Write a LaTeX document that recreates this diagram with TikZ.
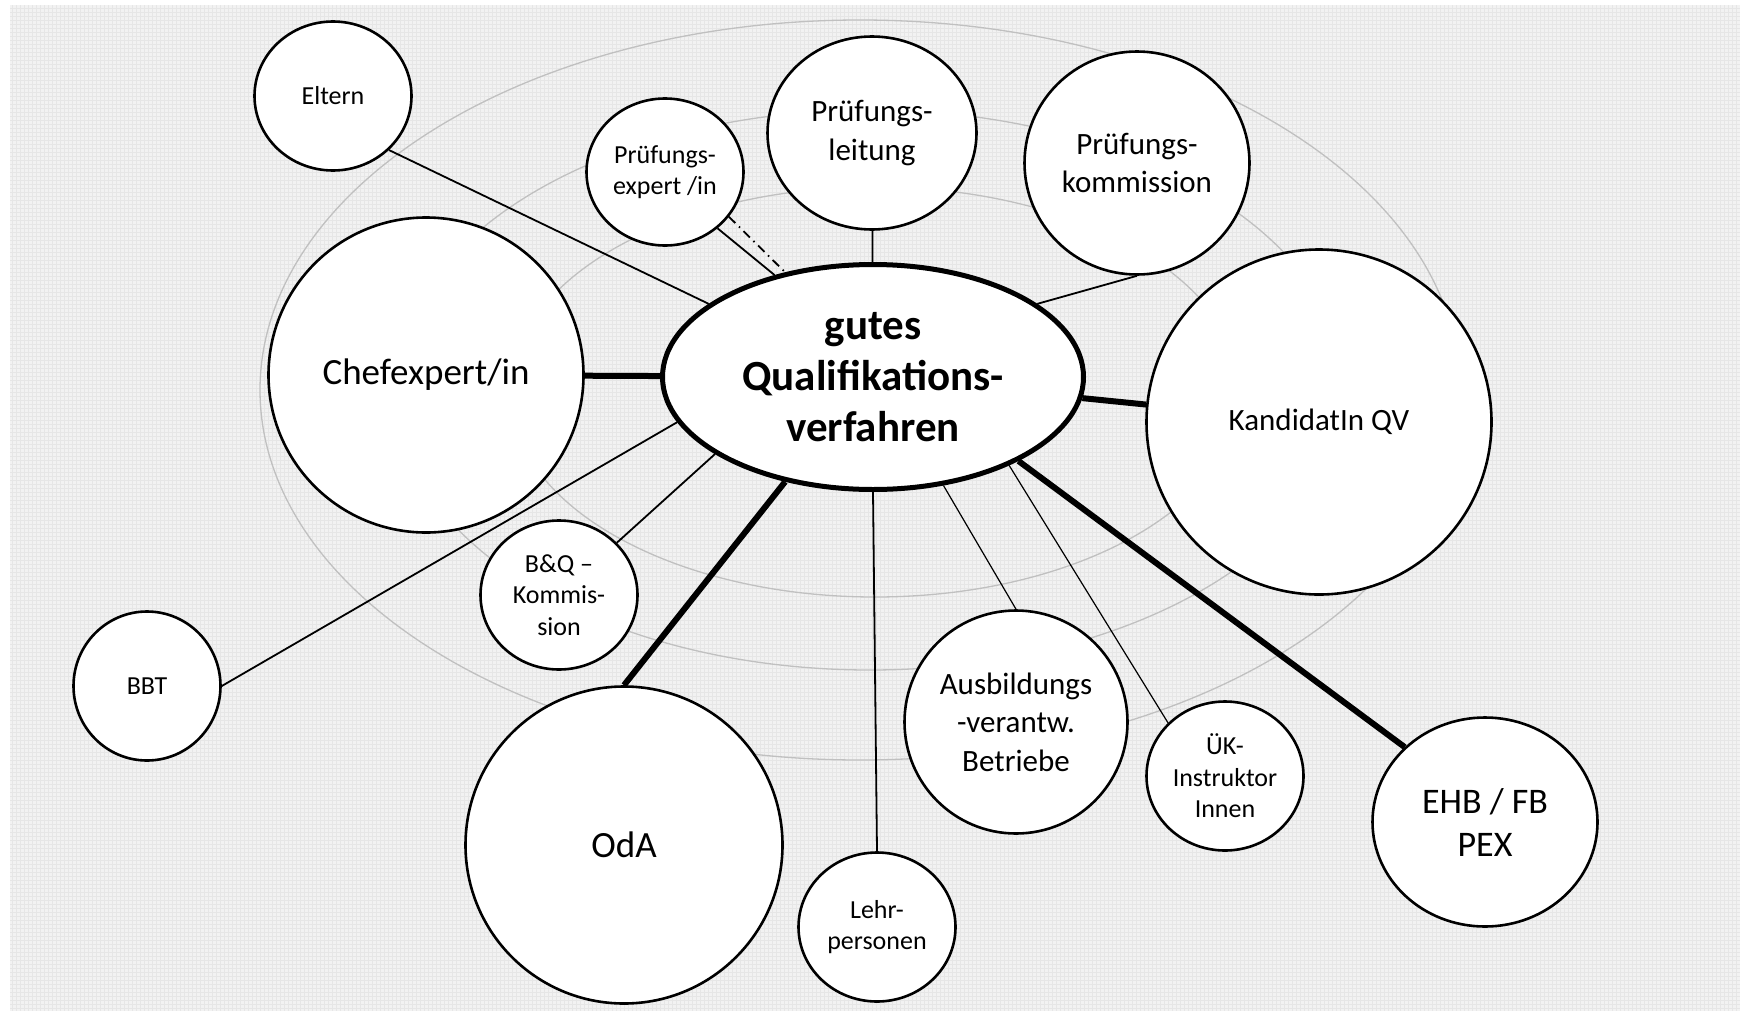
\documentclass[tikz,border=0pt]{standalone}
\usepackage{fontspec}
\setmainfont{Carlito}
\usetikzlibrary{shapes.geometric}
\pgfdeclarelayer{gridlayer}
\pgfdeclarelayer{links}
\pgfsetlayers{gridlayer,links,main}
\definecolor{bgbase}{RGB}{242,242,242}
\definecolor{bggrid}{RGB}{230,230,230}
\definecolor{ring}{RGB}{192,192,192}
\begin{document}
\begin{tikzpicture}[x=1pt,y=-1pt,
  bub/.style={ellipse, draw=black, line width=2.6pt, fill=white, inner sep=0pt, align=center},
  smallf/.style={font=\fontsize{26}{31.5}\selectfont},
  midf/.style={font=\fontsize{31}{38.5}\selectfont},
  bigf/.style={font=\fontsize{37}{44}\selectfont},
  thinl/.style={line width=1.8pt},
  hairl/.style={line width=1.2pt},
  thickl/.style={line width=6pt},
  ringl/.style={draw=ring, line width=1.3pt}
]
\useasboundingbox (0,0) rectangle (1740,1012);

\begin{pgfonlayer}{gridlayer}
  \fill[bgbase] (10,5) rectangle (1740,1011);
  \draw[bggrid, line width=0.9pt] (10,5) grid[step=4pt] (1740,1011);
  \draw[ringl] (860,390) ellipse [x radius=600pt, y radius=370pt];
  \draw[ringl] (870,390) ellipse [x radius=475pt, y radius=280pt];
  \draw[ringl] (875,392) ellipse [x radius=365pt, y radius=205pt];
\end{pgfonlayer}

% nodes
\node[bub, minimum width=421pt, minimum height=225pt, line width=5pt,
      font=\fontsize{43}{51}\selectfont\bfseries] (qv) at (873,377) {gutes\\Qualifikations-\\verfahren};
\node[bub, smallf, minimum width=157pt, minimum height=149pt] (eltern) at (333,96) {Eltern};
\node[bub, smallf, minimum width=157pt, minimum height=147pt] (pexp) at (665,172) {Prüfungs-\\expert /in};
\node[bub, midf, minimum width=209pt, minimum height=193pt] (pl) at (872,133) {Prüfungs-\\leitung};
\node[bub, midf, minimum width=225pt, minimum height=223pt] (pk) at (1137,163) {Prüfungs-\\kommission};
\node[bub, bigf, minimum width=315pt, minimum height=315pt] (chef) at (426,375) {Chefexpert/in};
\node[bub, midf, minimum width=345pt, minimum height=345pt] (kand) at (1319,422) {KandidatIn QV};
\node[bub, smallf, minimum width=147pt, minimum height=149pt] (bbt) at (147,686) {BBT};
\node[bub, smallf, minimum width=157pt, minimum height=149pt] (bq) at (559,595) {B\&Q –\\Kommis-\\sion};
\node[bub, bigf, minimum width=317pt, minimum height=317pt] (oda) at (624,845) {OdA};
\node[bub, smallf, minimum width=157pt, minimum height=149pt] (lehr) at (877,927) {Lehr-\\personen};
\node[bub, midf, minimum width=223pt, minimum height=223pt] (ausb) at (1016,722) {Ausbildungs\\-verantw.\\Betriebe};
\node[bub, smallf, minimum width=157pt, minimum height=149pt] (uek) at (1225,776) {ÜK-\\Instruktor\\Innen};
\node[bub, font=\fontsize{36}{43}\selectfont, minimum width=225pt, minimum height=209pt] (ehb) at (1485,822) {EHB / FB\\PEX};

% connectors
\begin{pgfonlayer}{links}
  \draw[thinl] (eltern.-44.5) -- (qv.156.5);
  \draw[thinl] (pexp.-47.6) -- (qv.134.7);
  \draw[thinl, dash pattern=on 9pt off 5pt on 1.5pt off 5pt] (pexp.-35) -- (qv.130);
  \draw[thinl] (pl) -- (qv);
  \draw[thinl] (pk.south) -- (qv.24);
  \draw[thickl] (chef) -- (qv);
  \draw[thickl] (kand) -- (qv);
  \draw[thinl] (bbt.east) -- (qv.193.6);
  \draw[thinl] (bq) -- (qv.206);
  \draw[thickl] (oda.north) -- (qv.230);
  \draw[thinl] (lehr.north) -- (qv.south);
  \draw[hairl] (ausb.north) -- (qv.-57);
  \draw[hairl] (uek.137) -- (qv.-33);
  \draw[thickl] (ehb.137) -- (qv.-30);
\end{pgfonlayer}
\end{tikzpicture}
\end{document}
